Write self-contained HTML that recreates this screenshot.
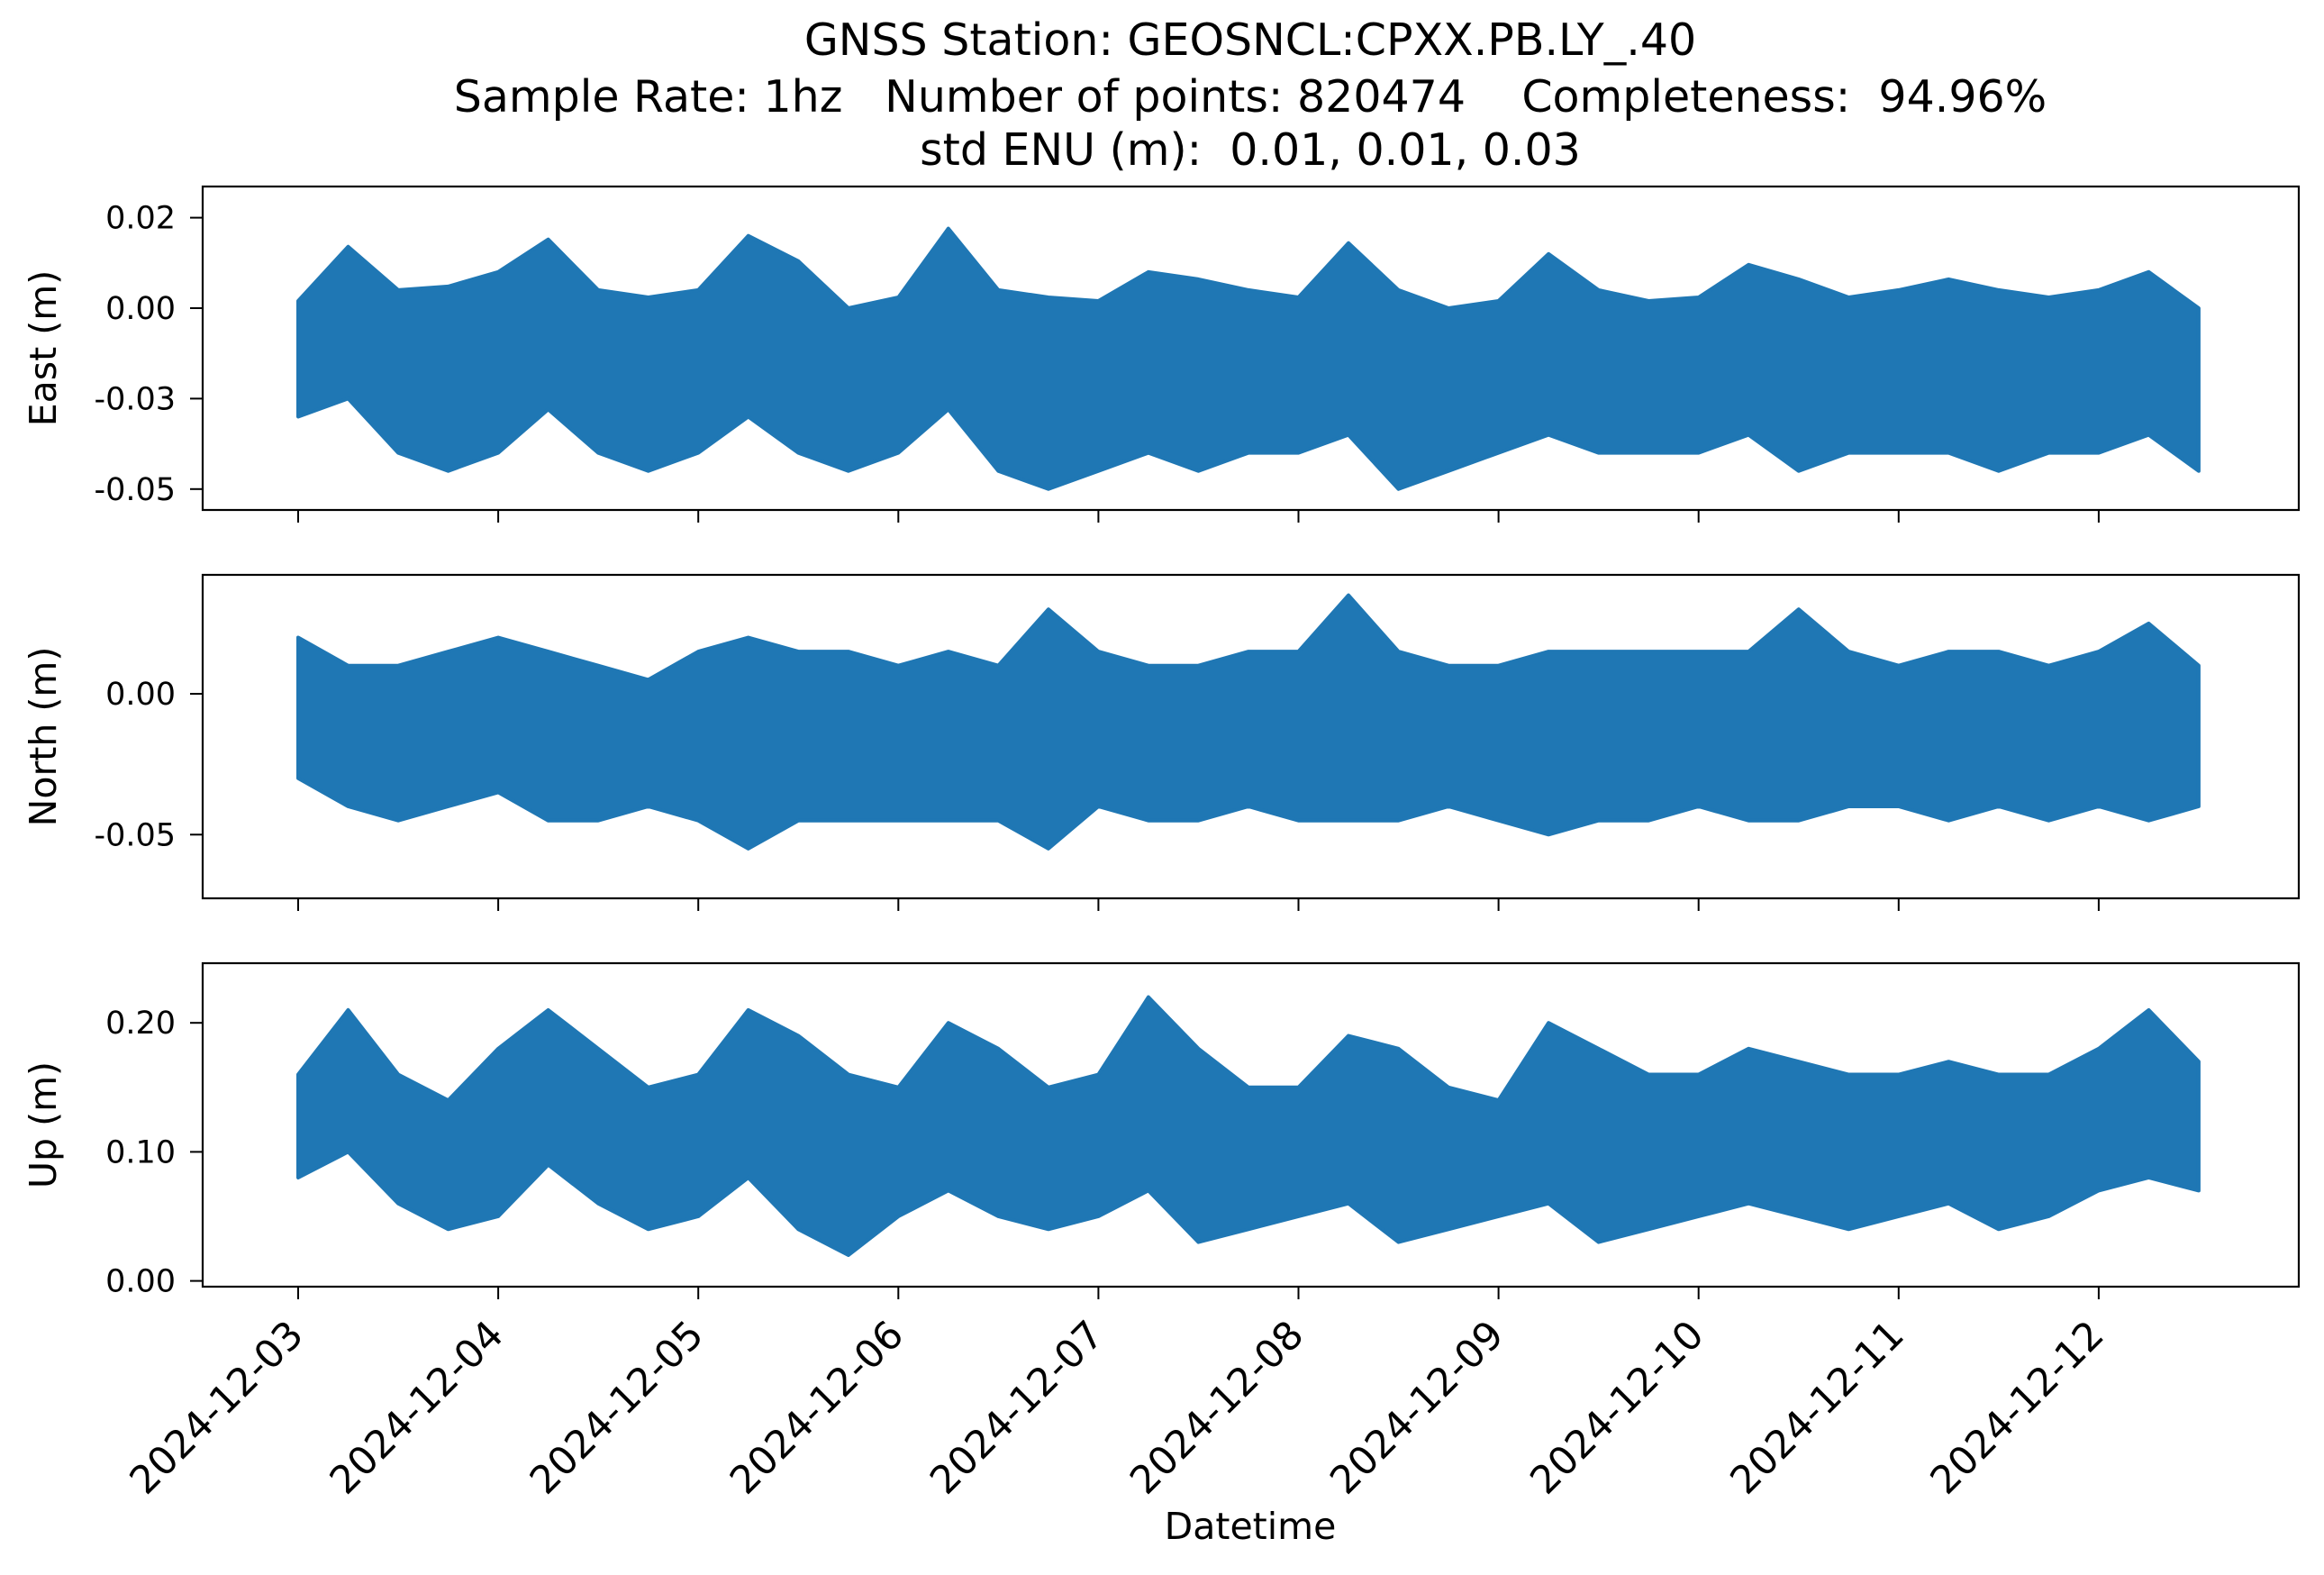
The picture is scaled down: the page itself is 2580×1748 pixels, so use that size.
<!DOCTYPE html>
<html><head><meta charset="utf-8"><style>
html,body{margin:0;padding:0;background:#fff}
svg{display:block;font-family:"DejaVu Sans","Liberation Sans",sans-serif}
</style></head><body>
<svg id="chart" width="2580" height="1748" viewBox="0 0 2580 1748" xmlns="http://www.w3.org/2000/svg">
<rect width="2580" height="1748" fill="#fff"/>
<g font-size="49" text-anchor="middle" fill="#000">
<text x="1388" y="61">GNSS Station: GEOSNCL:CPXX.PB.LY_.40</text>
<text x="1388" y="124" xml:space="preserve">Sample Rate: 1hz   Number of points: 820474    Completeness:  94.96%</text>
<text x="1388" y="183" xml:space="preserve">std ENU (m):  0.01, 0.01, 0.03</text>
</g>
<text x="1388" y="1708" font-size="41" text-anchor="middle">Datetime</text>
<g id="panels"></g>
</svg>
<script>
const tDays = [0,0.25,0.5,0.75,1,1.25,1.5,1.75,2,2.25,2.5,2.75,3,3.25,3.5,3.75,4,4.25,4.5,4.75,5,5.25,5.5,5.75,6,6.25,6.5,6.75,7,7.25,7.5,7.75,8,8.25,8.5,8.75,9,9.25,9.5];
const dateLabels = ["2024-12-03","2024-12-04","2024-12-05","2024-12-06","2024-12-07","2024-12-08","2024-12-09","2024-12-10","2024-12-11","2024-12-12"];
const eastMax = [0.002,0.017,0.005,0.006,0.010,0.019,0.005,0.003,0.005,0.020,0.013,0.000,0.003,0.022,0.005,0.003,0.002,0.010,0.008,0.005,0.003,0.018,0.005,0.000,0.002,0.015,0.005,0.002,0.003,0.012,0.008,0.003,0.005,0.008,0.005,0.003,0.005,0.010,0.000];
const eastMin = [-0.030,-0.025,-0.040,-0.045,-0.040,-0.028,-0.040,-0.045,-0.040,-0.030,-0.040,-0.045,-0.040,-0.028,-0.045,-0.050,-0.045,-0.040,-0.045,-0.040,-0.040,-0.035,-0.050,-0.045,-0.040,-0.035,-0.040,-0.040,-0.040,-0.035,-0.045,-0.040,-0.040,-0.040,-0.045,-0.040,-0.040,-0.035,-0.045];
const northMax = [0.020,0.010,0.010,0.015,0.020,0.015,0.010,0.005,0.015,0.020,0.015,0.015,0.010,0.015,0.010,0.030,0.015,0.010,0.010,0.015,0.015,0.035,0.015,0.010,0.010,0.015,0.015,0.015,0.015,0.015,0.030,0.015,0.010,0.015,0.015,0.010,0.015,0.025,0.010];
const northMin = [-0.030,-0.040,-0.045,-0.040,-0.035,-0.045,-0.045,-0.040,-0.045,-0.055,-0.045,-0.045,-0.045,-0.045,-0.045,-0.055,-0.040,-0.045,-0.045,-0.040,-0.045,-0.045,-0.045,-0.040,-0.045,-0.050,-0.045,-0.045,-0.040,-0.045,-0.045,-0.040,-0.040,-0.045,-0.040,-0.045,-0.040,-0.045,-0.040];
const upMax = [0.16,0.21,0.16,0.14,0.18,0.21,0.18,0.15,0.16,0.21,0.19,0.16,0.15,0.20,0.18,0.15,0.16,0.22,0.18,0.15,0.15,0.19,0.18,0.15,0.14,0.20,0.18,0.16,0.16,0.18,0.17,0.16,0.16,0.17,0.16,0.16,0.18,0.21,0.17];
const upMin = [0.08,0.10,0.06,0.04,0.05,0.09,0.06,0.04,0.05,0.08,0.04,0.02,0.05,0.07,0.05,0.04,0.05,0.07,0.03,0.04,0.05,0.06,0.03,0.04,0.05,0.06,0.03,0.04,0.05,0.06,0.05,0.04,0.05,0.06,0.04,0.05,0.07,0.08,0.07];
const eastTicks = [0.025,0,-0.025,-0.05];
const eastTickLabels = ["0.02","0.00","-0.03","-0.05"];
const northTicks = [0,-0.05];
const northTickLabels = ["0.00","-0.05"];
const upTicks = [0.2,0.1,0];
const upTickLabels = ["0.20","0.10","0.00"];

const NS="http://www.w3.org/2000/svg";
const L=225,R=2552;
const xScale = d => 331 + d*222.1;
function mk(tag, attrs, parent){const e=document.createElementNS(NS,tag);for(const k in attrs)e.setAttribute(k,attrs[k]);parent.appendChild(e);return e;}
const root=document.getElementById('panels');
const panels=[
 {name:'east',label:'East (m)',top:207,bot:566,y:v=>342 - v/0.025*100.4,max:eastMax,min:eastMin,ticks:eastTicks,tl:eastTickLabels},
 {name:'north',label:'North (m)',top:638,bot:997,y:v=>770 - v/0.05*156.3,max:northMax,min:northMin,ticks:northTicks,tl:northTickLabels},
 {name:'up',label:'Up (m)',top:1069,bot:1428,y:v=>1421.6 - v*1432,max:upMax,min:upMin,ticks:upTicks,tl:upTickLabels}
];
panels.forEach((p,pi)=>{
 const g=mk('g',{},root);
 
 
 let pts=tDays.map((d,i)=>xScale(d).toFixed(1)+','+p.y(p.max[i]).toFixed(1));
 for(let i=tDays.length-1;i>=0;i--) pts.push(xScale(tDays[i]).toFixed(1)+','+p.y(p.min[i]).toFixed(1));
 const band=mk('polygon',{points:pts.join(' '),fill:'#1f77b4',stroke:'#1f77b4','stroke-width':4,'stroke-linejoin':'round'},g);
 
 
 const frame=mk('rect',{x:L,y:p.top,width:R-L,height:p.bot-p.top,fill:'none',stroke:'#000','stroke-width':2.2},g);
 
 
 p.ticks.forEach((v,i)=>{
  const y=p.y(v);
  mk('line',{x1:L-14,x2:L,y1:y,y2:y,stroke:'#000','stroke-width':2},g);
  const t=mk('text',{x:L-30,y:y+12,'font-size':35,'text-anchor':'end'},g);
  t.textContent=p.tl[i];
  
  
 });
 const yl=mk('text',{x:0,y:0,'font-size':41,'text-anchor':'middle',transform:`translate(62,${(p.top+p.bot)/2}) rotate(-90)`},g);
 yl.textContent=p.label;
 
 
 dateLabels.forEach((s,i)=>{
  const x=xScale(i);
  mk('line',{x1:x,x2:x,y1:p.bot,y2:p.bot+14,stroke:'#000','stroke-width':2},g);
  if(pi===2){
   const t=mk('text',{x:0,y:0,'font-size':43,'text-anchor':'end',transform:`translate(${x+8},${p.bot+56}) rotate(-45)`},g);
   t.textContent=s;
   
   
  }
 });
});
</script>
</body></html>
